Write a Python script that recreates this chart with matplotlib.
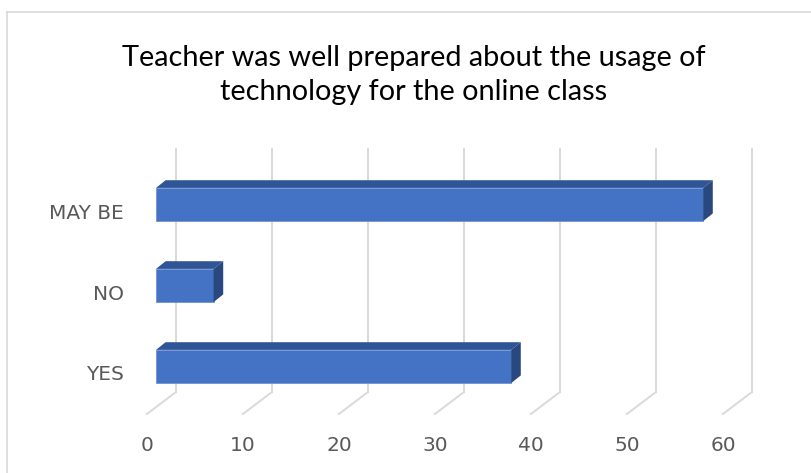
import matplotlib
matplotlib.use("Agg")
import matplotlib.pyplot as plt
from matplotlib.lines import Line2D

# --- Data ---
categories = ["YES", "NO", "MAY BE"]
values = [37, 6, 57]
x_ticks = [0, 10, 20, 30, 40, 50, 60]
title = "Teacher was well prepared about the usage of\ntechnology for the online class"

# --- Style ---
FRONT = "#4472C4"
TOP = "#2F5597"
SIDE = "#29487F"
GRID = "#D9D9D9"
TEXT = "#595959"
BAR_H = 0.41

# oblique depth offsets (data units)
BAR_DX, BAR_DY = 1.0, 0.095
BACK_DX, BACK_DY = 2.08, 0.185
FLOOR_DX, FLOOR_DY = -0.94, -0.086

fig = plt.figure(figsize=(8.11, 4.73), dpi=100)
ax = fig.add_axes([0, 0, 1, 1])
ax.set_xlim(-16.25, 68.23)
ax.set_ylim(-1.315, 4.525)
ax.axis("off")

n = len(categories)
y_bot, y_top = -0.5, n - 0.5

# back wall gridlines + floor diagonals
for t in x_ticks:
    ax.plot([t + BACK_DX, t + BACK_DX], [y_bot + BACK_DY, y_top + BACK_DY],
            color=GRID, lw=1.4, zorder=1)
    ax.plot([t + BACK_DX, t + FLOOR_DX], [y_bot + BACK_DY, y_bot + FLOOR_DY],
            color=GRID, lw=1.4, zorder=1)
    ax.text(t + FLOOR_DX, -0.97, str(t), ha="center", va="center",
            fontsize=14.5, color=TEXT)

# bars: front face via barh, top and side faces as polygons
ypos = list(range(n))
ax.barh(ypos, values, height=BAR_H, left=0, color=FRONT,
        edgecolor="#6F93D3", linewidth=0.6, zorder=3)
for y, v in zip(ypos, values):
    top = y + BAR_H / 2
    bot = y - BAR_H / 2
    ax.fill([0, v, v + BAR_DX, BAR_DX], [top, top, top + BAR_DY, top + BAR_DY],
            color=TOP, zorder=3, lw=0)
    ax.fill([v, v + BAR_DX, v + BAR_DX, v], [bot, bot + BAR_DY, top + BAR_DY, top],
            color=SIDE, zorder=3, lw=0)

for y, c in zip(ypos, categories):
    ax.text(-3.35, y - 0.105, c, ha="right", va="center", fontsize=14.5, color=TEXT)

fig.text(0.51, 0.842, title, ha="center", va="center", fontsize=20.8,
         family="Lato", color="black", linespacing=1.4)

# chart area border (top and left visible)
fig.add_artist(Line2D([7 / 811, 1], [1 - 12 / 473, 1 - 12 / 473],
                      transform=fig.transFigure, color=GRID, lw=1.2))
fig.add_artist(Line2D([7 / 811, 7 / 811], [0, 1 - 12 / 473],
                      transform=fig.transFigure, color=GRID, lw=1.2))

fig.savefig("out.png", dpi=100)
